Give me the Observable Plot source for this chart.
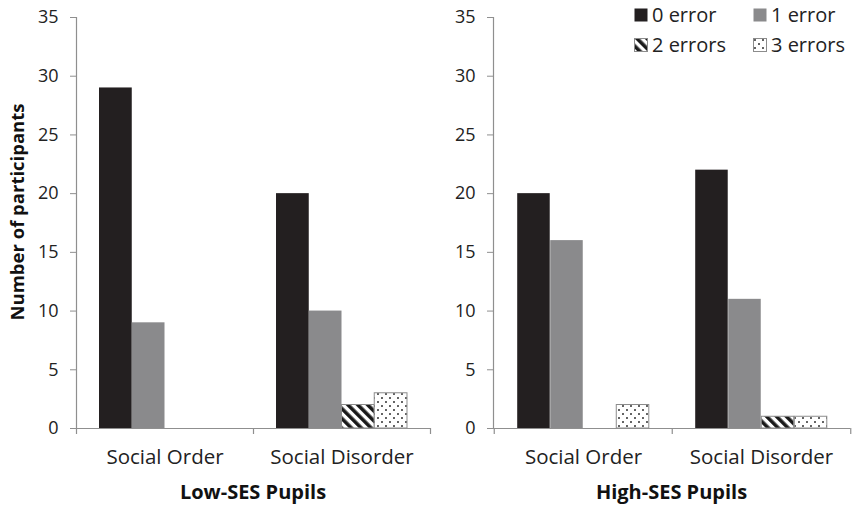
<!DOCTYPE html>
<html><head><meta charset="utf-8">
<script src="https://cdn.jsdelivr.net/npm/d3@7"></script>
<script src="https://cdn.jsdelivr.net/npm/@observablehq/plot@0.6"></script>
<style>
body{margin:0;background:#fff;font-family:"Open Sans",sans-serif;}
#root{position:relative;width:853px;height:508px;overflow:hidden;background:#fff;}
.panel{position:absolute;top:0;}
.ptitle{position:absolute;top:479px;width:260px;font-weight:bold;font-size:20px;color:#111;text-align:center;line-height:26px;}
.ylab{position:absolute;left:16px;top:212px;transform:translate(-50%,-50%) rotate(-90deg);white-space:nowrap;font-weight:bold;font-size:18.5px;color:#111;}
.leg{position:absolute;display:flex;align-items:center;font-size:20px;color:#222;line-height:24px;white-space:nowrap;}
.leg svg{margin-right:4px;}
</style></head><body>
<svg width="0" height="0" style="position:absolute">
  <defs>
    <pattern id="stripes" patternUnits="userSpaceOnUse" width="7" height="7" patternTransform="rotate(-45)">
      <rect width="7" height="7" fill="#fff"/>
      <rect width="3.6" height="7" fill="#1a1a1a"/>
    </pattern>
    <pattern id="dots" patternUnits="userSpaceOnUse" width="8" height="8">
      <rect width="8" height="8" fill="#fff"/>
      <circle cx="2" cy="2" r="0.95" fill="#222"/>
      <circle cx="6" cy="6" r="0.95" fill="#222"/>
    </pattern>
  </defs>
</svg>
<div id="root"></div>
<script>
// ---- data ----
const categories = ["Social Order", "Social Disorder"];
const series = ["0 error", "1 error", "2 errors", "3 errors"];
const lowSESOrder = [29, 9, 0, 0];
const lowSESDisorder = [20, 10, 2, 3];
const highSESOrder = [20, 16, 0, 2];
const highSESDisorder = [22, 11, 1, 1];
const yTicks = [0, 5, 10, 15, 20, 25, 30, 35];
const panelTitles = ["Low-SES Pupils", "High-SES Pupils"];
const yLabel = "Number of participants";

// ---- styles ----
const fills = ["#231f20", "#8a8a8c", "url(#stripes)", "url(#dots)"];
const strokes = ["none", "none", "#8c8c8c", "#8c8c8c"];
const axisColor = "#8f8f8f";
const H = 508, mT = 17, mB = 80, yMax = 35;

function panel(valuesByCategory, W, mL, mR) {
  const rows = [];
  categories.forEach((c, ci) => series.forEach((s, si) => {
    const v = valuesByCategory[ci][si];
    if (v > 0) rows.push({category: c, series: s, si, value: v});
  }));
  const band = (W - mL - mR) / categories.length;
  const pad = band * 0.13;
  const slot = (band - 2 * pad) / series.length;
  const tickUnits = 6 / ((H - mT - mB) / yMax);
  return Plot.plot({
    width: W, height: H,
    marginLeft: mL, marginRight: mR, marginTop: mT, marginBottom: mB,
    style: {fontFamily: "Open Sans, sans-serif", fontSize: "18px", color: "#222", background: "transparent"},
    x: {type: "band", domain: categories, padding: 0, axis: null},
    y: {domain: [0, yMax], axis: null},
    marks: [
      ...series.map((s, si) => Plot.barY(rows.filter(d => d.si === si), {
        x: "category", y: "value",
        fill: fills[si], stroke: strokes[si], strokeWidth: 1,
        insetLeft: pad + si * slot, insetRight: band - pad - (si + 1) * slot
      })),
      Plot.ruleY([0], {stroke: axisColor, strokeWidth: 1.2}),
      Plot.ruleX([0], {x: null, y1: 0, y2: yMax, dx: -band, stroke: axisColor, strokeWidth: 1.2}),
      Plot.ruleX(categories, {x: d => d, y1: 0, y2: -tickUnits, dx: -band / 2, stroke: axisColor, strokeWidth: 1.2}),
      Plot.ruleX(categories.slice(-1), {x: d => d, y1: 0, y2: -tickUnits, dx: band / 2, stroke: axisColor, strokeWidth: 1.2}),
      Plot.axisY({ticks: yTicks, tickSize: 6, tickPadding: 12, stroke: axisColor, fill: "#222", label: null}),
      Plot.axisX({tickSize: 0, tickPadding: 21, fill: "#222", fontSize: 20.5, label: null})
    ]
  });
}

const root = document.getElementById("root");
const layouts = [
  {vals: [lowSESOrder, lowSESDisorder], left: 0, W: 440, mL: 76, mR: 10},
  {vals: [highSESOrder, highSESDisorder], left: 417, W: 436, mL: 76, mR: 3}
];
layouts.forEach((L, i) => {
  const wrap = document.createElement("div");
  wrap.className = "panel";
  wrap.style.left = L.left + "px";
  wrap.appendChild(panel(L.vals, L.W, L.mL, L.mR));
  root.appendChild(wrap);
  const t = document.createElement("div");
  t.className = "ptitle";
  const center = L.left + L.mL + (L.W - L.mL - L.mR) / 2;
  t.style.left = (center - 130) + "px";
  t.textContent = panelTitles[i];
  root.appendChild(t);
});

const yl = document.createElement("div");
yl.className = "ylab";
yl.textContent = yLabel;
root.appendChild(yl);

// legend
const legPos = [[634, 3], [753, 3], [634, 33], [753, 33]];
series.forEach((s, si) => {
  const d = document.createElement("div");
  d.className = "leg";
  d.style.left = legPos[si][0] + "px";
  d.style.top = legPos[si][1] + "px";
  const sw = d3.create("svg").attr("width", 14).attr("height", 14);
  sw.append("rect").attr("x", 0.5).attr("y", 0.5).attr("width", 13).attr("height", 13)
    .attr("fill", fills[si]).attr("stroke", strokes[si] === "none" ? "none" : strokes[si]);
  d.appendChild(sw.node());
  const span = document.createElement("span");
  span.textContent = s;
  d.appendChild(span);
  root.appendChild(d);
});
</script>
</body></html>
